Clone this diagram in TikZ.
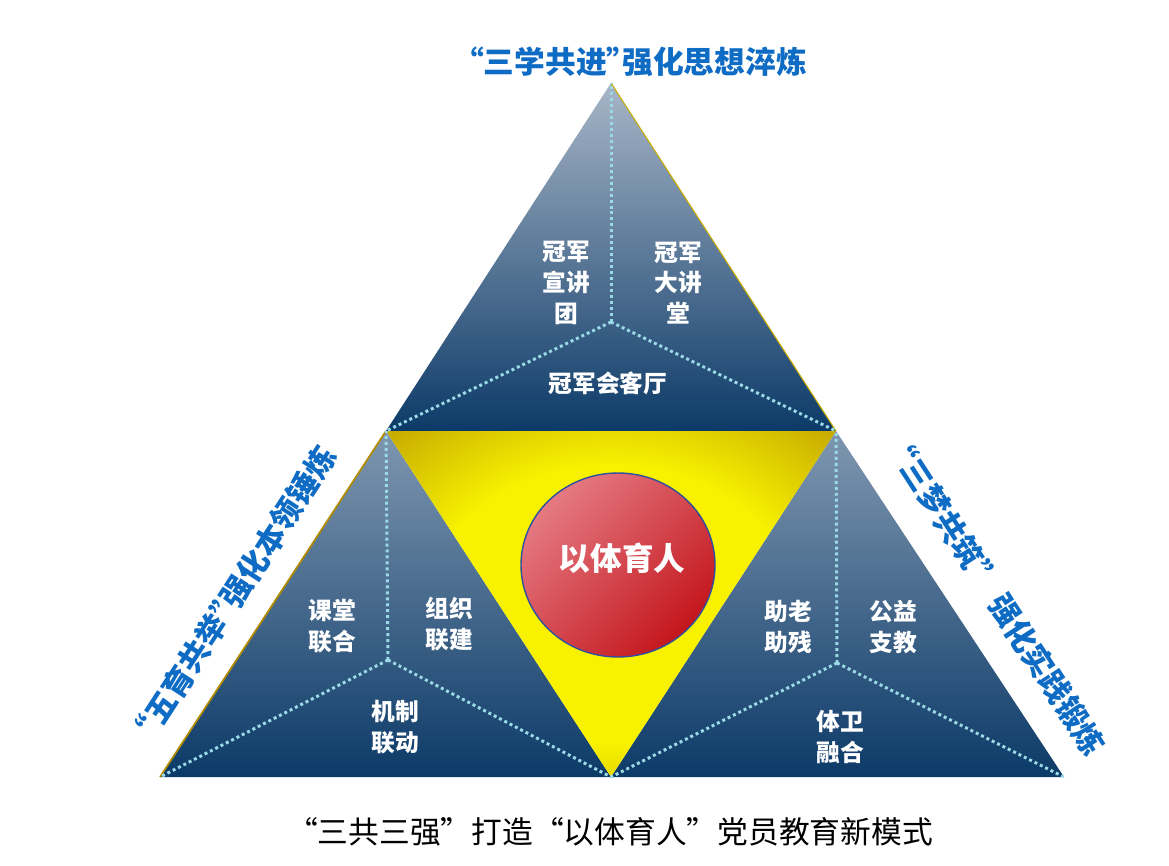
\documentclass[tikz,border=0pt]{standalone}
\usepackage{fontspec}
\newfontfamily\cjk{Noto Sans CJK SC}
\definecolor{ttlblue}{HTML}{0F6CC4}
\definecolor{navy}{HTML}{0C3A68}
\definecolor{slate}{HTML}{A8B6C7}
\definecolor{slatemid}{HTML}{7F97B0}
\definecolor{gold}{HTML}{B08A00}
\definecolor{yel}{HTML}{F8F200}
\definecolor{redA}{HTML}{E57A83}
\definecolor{redB}{HTML}{C4161C}
\definecolor{ring}{HTML}{2F4F9F}
\definecolor{seg}{HTML}{9ADAE6}
\pgfdeclareradialshading{yelshade}{\pgfpoint{0bp}{0bp}}{color(0bp)=(yel); color(20bp)=(yel); color(42bp)=(gold); color(50bp)=(gold)}
\newcommand\openq{“}
\newcommand\closeq{”\kern-0.5em}
\begin{document}
\begin{tikzpicture}[x=0.02cm,y=-0.02cm,
   split/.style={draw=seg, line width=1.7pt, dash pattern=on 1.7pt off 1.7pt},
   lab/.style={text=white, align=center, font=\cjk\bfseries\fontsize{13.5}{17.5}\selectfont},
   ttl/.style={text=ttlblue, font=\cjk\bfseries\fontsize{17.5}{20}\selectfont}]
   \useasboundingbox (0,0) rectangle (1169,865);
   % corners
   \coordinate (T)  at (611,83);
   \coordinate (TL) at (386,431);
   \coordinate (TR) at (836,431);
   \coordinate (L)  at (160,777);
   \coordinate (M)  at (611,777);
   \coordinate (R)  at (1064,777);
   \coordinate (TC) at (611,322);
   \coordinate (LC) at (388,660);
   \coordinate (RC) at (837,663);
   % triangles
   \shade[top color=slate, bottom color=navy] (T) -- (TR) -- (TL) -- cycle;
   \shade[top color=slatemid, bottom color=navy] (TL) -- (M) -- (L) -- cycle;
   \shade[top color=slatemid, bottom color=navy] (TR) -- (R) -- (M) -- cycle;
   \shade[shading=yelshade] (TL) -- (TR) -- (M) -- cycle;
   \draw[gold, line width=1pt] (L) -- (TL);
   \draw[gold!70!yellow, line width=0.6pt] (T) -- (TR);
   % dotted splits
   \path[split] (TC) edge (T) edge (TL) edge (TR);
   \path[split] (LC) edge (TL) edge (L) edge (M);
   \path[split] (RC) edge (TR) edge (M) edge (R);
   % centre
   \shade[draw=ring, line width=0.8pt, top color=redA, bottom color=redB, shading angle=45]
     (618,565) ellipse [x radius=97, y radius=92];
   \node (core) [text=white, font=\cjk\bfseries\fontsize{18}{20}\selectfont] at (622,558) {以体育人};
   % labels
   \node (a1) [lab] at (566,283) {冠军\\宣讲\\团};
   \node (a2) [lab] at (678,283) {冠军\\大讲\\堂};
   \node (a3) [lab] at (608,383) {冠军会客厅};
   \node (b1) [lab] at (332,626) {课堂\\联合};
   \node (b2) [lab] at (449,624) {组织\\联建};
   \node (b3) [lab] at (395,727) {机制\\联动};
   \node (c1) [lab] at (788,627) {助老\\助残};
   \node (c2) [lab] at (893,627) {公益\\支教};
   \node (c3) [lab] at (840,737) {体卫\\融合};
   % titles
   \node (t1) [ttl] at (630,62) {\openq 三学共进\closeq 强化思想淬炼};
   \node (t2) [ttl, rotate=57] at (232,598) {\openq 五育共举\closeq 强化本领锤炼};
   \node (t3) [ttl, rotate=-57] at (995,594) {“三梦共筑” 强化实践锻炼};
   \node (cap) [font=\cjk\fontsize{17.5}{20}\selectfont] at (610,832) {“三共三强”打造“以体育人”党员教育新模式};
\end{tikzpicture}
\end{document}
